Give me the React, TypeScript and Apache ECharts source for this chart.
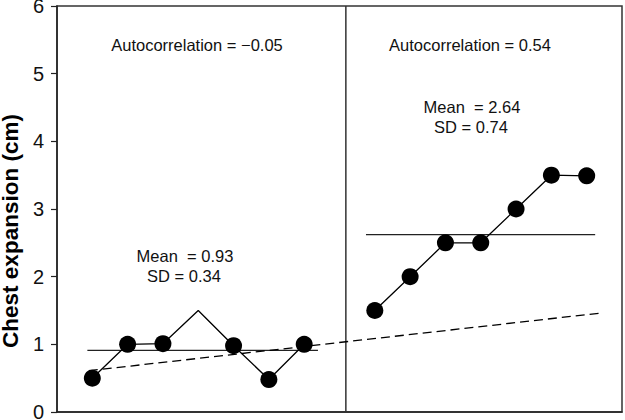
import React, { useEffect, useRef } from "react";
import * as echarts from "echarts";

const phaseAX = [1, 2, 3, 4, 5, 6, 7];
const phaseAY = [0.5, 1.0, 1.01, 1.5, 0.98, 0.48, 1.0];
const phaseAHiddenMarker = [false, false, false, true, false, false, false];
const phaseBX = [9, 10, 11, 12, 13, 14, 15];
const phaseBY = [1.5, 2.0, 2.5, 2.5, 3.0, 3.5, 3.49];
const meanA: [number, number][] = [[0.86, 0.91], [7.39, 0.91]];
const meanB: [number, number][] = [[8.75, 2.62], [15.24, 2.62]];
const trend: [number, number][] = [[0.9, 0.61], [15.36, 1.46]];
const dividerX = 8.18;
const yTicks = [0, 1, 2, 3, 4, 5, 6];
const annotations = [
  { text: "Autocorrelation = \u22120.05", x: 197, y: 45 },
  { text: "Autocorrelation = 0.54", x: 470, y: 45 },
  { text: "Mean  = 2.64", x: 472, y: 107 },
  { text: "SD = 0.74", x: 471, y: 127 },
  { text: "Mean  = 0.93", x: 185, y: 256 },
  { text: "SD = 0.34", x: 184, y: 276 },
];

export default function App() {
  const ref = useRef<HTMLDivElement>(null);
  useEffect(() => {
    if (!ref.current) return;
    const chart = echarts.init(ref.current, undefined, { renderer: "svg" });
    const font = "'Liberation Sans', Arial, sans-serif";
    chart.setOption({
      animation: false,
      backgroundColor: "#fff",
      textStyle: { fontFamily: font },
      grid: {
        left: 57,
        right: 3,
        top: 6,
        bottom: 8,
        containLabel: false,
        outerBoundsMode: "none",
        show: true,
        borderColor: "#333",
        borderWidth: 1.5,
        backgroundColor: "transparent",
      },
      xAxis: {
        type: "value",
        min: 0,
        max: 16,
        axisLine: { show: true, lineStyle: { color: "#222", width: 1.5 } },
        axisTick: { show: false },
        axisLabel: { show: false },
        splitLine: { show: false },
      },
      yAxis: {
        type: "value",
        min: yTicks[0],
        max: yTicks[yTicks.length - 1],
        interval: 1,
        name: "Chest expansion (cm)",
        nameLocation: "middle",
        nameGap: 34,
        nameTextStyle: {
          fontSize: 22.5,
          lineHeight: 22,
          fontWeight: "bold",
          color: "#000",
          fontFamily: font,
          padding: [0, 44, 0, 0],
        },
        axisLine: { show: true, lineStyle: { color: "#222", width: 1.5 } },
        axisTick: { show: true, inside: false, length: 6, lineStyle: { color: "#222", width: 1.2 } },
        axisLabel: { fontSize: 20, color: "#111", margin: 13, fontFamily: font },
        splitLine: { show: false },
      },
      series: [
        {
          type: "line",
          data: phaseAX.map((x, i) => ({
            value: [x, phaseAY[i]],
            symbol: phaseAHiddenMarker[i] ? "none" : "circle",
          })),
          symbol: "circle",
          symbolSize: 17,
          lineStyle: { color: "#000", width: 1.3 },
          itemStyle: { color: "#000" },
          z: 5,
        },
        {
          type: "line",
          data: phaseBX.map((x, i) => [x, phaseBY[i]]),
          symbol: "circle",
          symbolSize: 17,
          lineStyle: { color: "#000", width: 1.3 },
          itemStyle: { color: "#000" },
          z: 5,
        },
        {
          type: "line",
          data: meanA,
          symbol: "none",
          lineStyle: { color: "#222", width: 1.3 },
          z: 3,
        },
        {
          type: "line",
          data: meanB,
          symbol: "none",
          lineStyle: { color: "#222", width: 1.3 },
          z: 3,
        },
        {
          type: "line",
          data: trend,
          symbol: "none",
          lineStyle: { color: "#000", width: 1.3, type: [9, 5] },
          z: 3,
        },
        {
          type: "line",
          data: [[dividerX, yTicks[0]], [dividerX, yTicks[yTicks.length - 1]]],
          symbol: "none",
          lineStyle: { color: "#333", width: 1.5 },
          z: 2,
        },
      ],
      graphic: annotations.map((a) => ({
        type: "text",
        x: a.x,
        y: a.y,
        style: {
          text: a.text,
          fontSize: 16.5,
          fontFamily: font,
          fill: "#111",
          align: "center",
          verticalAlign: "middle",
        },
        z: 10,
      })),
    });
    return () => chart.dispose();
  }, []);
  return <div ref={ref} style={{ width: 625, height: 420, position: "absolute", left: 0, top: 0 }} />;
}
